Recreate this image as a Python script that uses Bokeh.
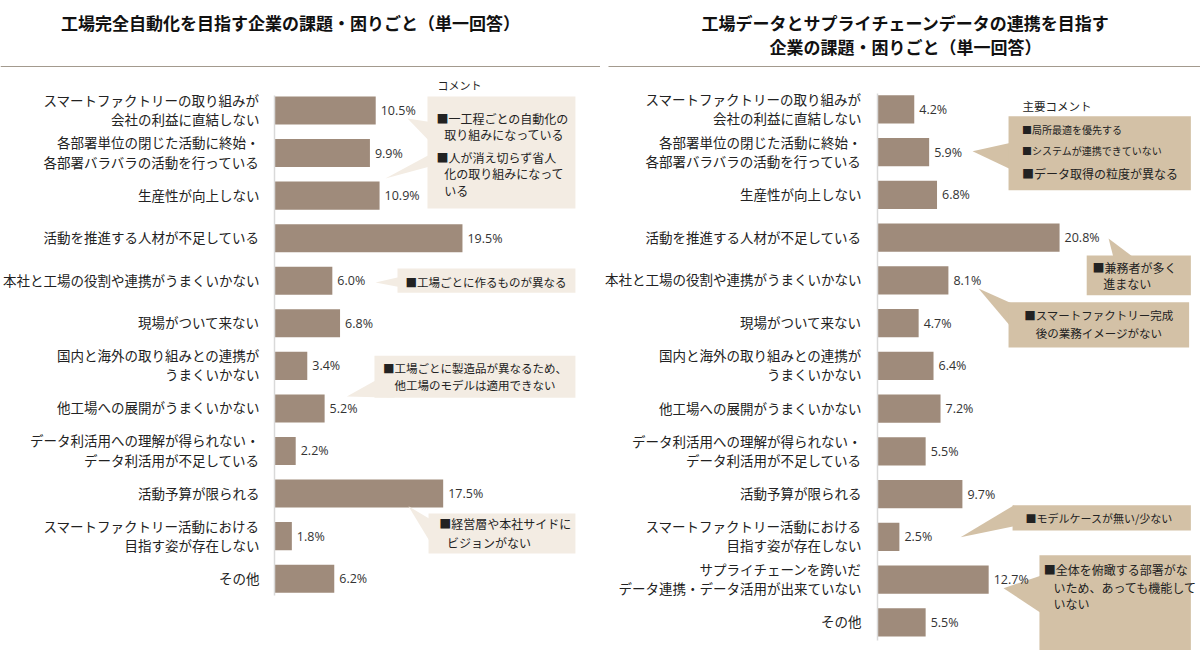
from bokeh.plotting import figure
from bokeh.layouts import row, column
from bokeh.models import Range1d, FixedTicker, ColumnDataSource
from bokeh.core.properties import value
from bokeh.embed import file_html
from bokeh.resources import INLINE

FONT = "Noto Sans CJK JP"
LABEL_FONT = "Lato, 'Noto Sans CJK JP'"
BAR = "#9f8b7b"
LFILL = "#f3ece3"
RFILL = "#d3c1a6"
RULE = "#a39a8e"
TXT = "#222222"

# ---------------- data ----------------
left_title = "工場完全自動化を目指す企業の課題・困りごと（単一回答）"
left_labels = [
    "スマートファクトリーの取り組みが\n会社の利益に直結しない",
    "各部署単位の閉じた活動に終始・\n各部署バラバラの活動を行っている",
    "生産性が向上しない",
    "活動を推進する人材が不足している",
    "本社と工場の役割や連携がうまくいかない",
    "現場がついて来ない",
    "国内と海外の取り組みとの連携が\nうまくいかない",
    "他工場への展開がうまくいかない",
    "データ利活用への理解が得られない・\nデータ利活用が不足している",
    "活動予算が限られる",
    "スマートファクトリー活動における\n目指す姿が存在しない",
    "その他",
]
left_values = [10.5, 9.9, 10.9, 19.5, 6.0, 6.8, 3.4, 5.2, 2.2, 17.5, 1.8, 6.2]

right_title = ["工場データとサプライチェーンデータの連携を目指す", "企業の課題・困りごと（単一回答）"]
right_labels = [
    "スマートファクトリーの取り組みが\n会社の利益に直結しない",
    "各部署単位の閉じた活動に終始・\n各部署バラバラの活動を行っている",
    "生産性が向上しない",
    "活動を推進する人材が不足している",
    "本社と工場の役割や連携がうまくいかない",
    "現場がついて来ない",
    "国内と海外の取り組みとの連携が\nうまくいかない",
    "他工場への展開がうまくいかない",
    "データ利活用への理解が得られない・\nデータ利活用が不足している",
    "活動予算が限られる",
    "スマートファクトリー活動における\n目指す姿が存在しない",
    "サプライチェーンを跨いだ\nデータ連携・データ活用が出来ていない",
    "その他",
]
right_values = [4.2, 5.9, 6.8, 20.8, 8.1, 4.7, 6.4, 7.2, 5.5, 9.7, 2.5, 12.7, 5.5]


# ---------------- helpers ----------------
def title_fig(width, lines, cx, rule_x0, rule_x1):
    t = figure(width=width, height=67, x_range=Range1d(0, width), y_range=Range1d(0, 67),
               output_backend="svg", toolbar_location=None, x_axis_location=None,
               y_axis_location=None, min_border=0, outline_line_color=None)
    t.frame_align = False
    t.xgrid.visible = False
    t.ygrid.visible = False
    ys = [45] if len(lines) == 1 else [45, 21]
    t.text(x=[cx] * len(lines), y=ys, text=lines, text_align="center", text_baseline="middle",
           text_font=value(FONT), text_font_style="bold", text_font_size="17px", text_color="#111111")
    t.segment(x0=[rule_x0], y0=[0.8], x1=[rule_x1], y1=[0.8], line_color=RULE, line_width=1.2)
    return t


def chart_fig(width, border_left, labels, values, xmax, yr, bounds, standoff):
    n = len(labels)
    p = figure(width=width, height=598, x_range=Range1d(0, xmax), y_range=Range1d(*yr),
               output_backend="svg", toolbar_location=None, x_axis_location=None,
               y_axis_location="left", min_border_left=border_left, min_border_right=0,
               min_border_top=0, min_border_bottom=0, outline_line_color=None)
    p.frame_align = False
    p.xgrid.visible = False
    p.ygrid.visible = False
    ax = p.yaxis[0]
    ax.ticker = FixedTicker(ticks=list(range(n)))
    ax.major_label_overrides = {i: lab for i, lab in enumerate(labels)}
    ax.major_tick_line_color = None
    ax.minor_tick_line_color = None
    ax.axis_line_color = "#d9d9d9"
    ax.axis_line_width = 1.5
    ax.bounds = bounds
    ax.major_label_standoff = standoff
    ax.major_label_text_font = LABEL_FONT
    ax.major_label_text_font_size = "13.5px"
    ax.major_label_text_color = TXT
    src = ColumnDataSource(dict(y=list(range(n)), v=values, lab=[f"{v:.1f}%" for v in values]))
    p.hbar(y="y", left=0, right="v", height=0.66, source=src, fill_color=BAR, line_color=None)
    return p, src


def value_labels(p, src):
    p.text(x="v", y="y", text="lab", source=src, x_offset=5, text_baseline="middle",
           text_font=value("Open Sans"), text_font_size="12.5px", text_color="#333333")


def callout(p, box, wedges, lines, fill):
    for w in wedges:
        p.patch(x=[q[0] for q in w], y=[q[1] for q in w], fill_color=fill, line_color=None)
    l, r, t, b = box
    p.quad(left=[l], right=[r], top=[t], bottom=[b], fill_color=fill, line_color=None)
    for (x, y, s, size, align) in lines:
        p.text(x=[x], y=[y], text=[s], text_align=align, text_baseline="middle",
               text_font=value(FONT), text_font_size=size, text_color=TXT)


def header(p, x, y, s, size):
    p.text(x=[x], y=[y], text=[s], text_baseline="middle", text_font=value(FONT),
           text_font_size=size, text_color=TXT)


# ---------------- left ----------------
t1 = title_fig(600, [left_title], 290, 0, 600)
p1, s1 = chart_fig(600, 274, left_labels, left_values, 33.82, (13.04, -1.01), (-0.35, 11.4), 9)

header(p1, 16.9, -0.59, "コメント", "11px")
callout(p1, (15.87, 31.22, -0.33, 2.30),
        [[(13.8, 0.19), (16.5, 0.28), (16.5, 0.82)], [(11.5, 1.60), (16.5, 0.99), (16.5, 1.29)]],
        [(16.8, 0.19, "■一工程ごとの自動化の", "12px", "left"),
         (17.6, 0.56, "取り組みになっている", "12px", "left"),
         (16.8, 1.10, "■人が消え切らず省人", "12px", "left"),
         (17.6, 1.48, "化の取り組みになって", "12px", "left"),
         (17.6, 1.88, "いる", "12px", "left")], LFILL)
callout(p1, (12.76, 31.22, 3.71, 4.28),
        [[(10.48, 4.04), (13.2, 3.90), (13.2, 4.16)]],
        [(13.6, 4.02, "■工場ごとに作るものが異なる", "11.5px", "left")], LFILL)
callout(p1, (10.37, 31.22, 5.76, 6.75),
        [[(7.5, 6.72), (10.8, 6.30), (12.5, 6.75)]],
        [(20.8, 6.04, "■工場ごとに製造品が異なるため、", "11.5px", "center"),
         (20.8, 6.46, "他工場のモデルは適用できない", "11.5px", "center")], LFILL)
callout(p1, (15.98, 31.22, 9.47, 10.41),
        [[(13.9, 9.30), (16.3, 9.62), (16.3, 10.2)]],
        [(17.1, 9.71, "■経営層や本社サイドに", "12px", "left"),
         (17.9, 10.15, "ビジョンがない", "12px", "left")], LFILL)
value_labels(p1, s1)

# ---------------- right ----------------
t2 = title_fig(600, right_title, 305, 8, 600)
p2, s2 = chart_fig(600, 277, right_labels, right_values, 36.9, (13.01, -0.98), (-0.37, 12.42), 10)

header(p2, 16.57, -0.09, "主要コメント", "11.5px")
callout(p2, (14.97, 35.8, 0.16, 1.89),
        [[(10.86, 0.98), (15.5, 0.77), (15.5, 1.43)]],
        [(16.5, 0.47, "■局所最適を優先する", "10px", "left"),
         (16.5, 0.96, "■システムが連携できていない", "10px", "left"),
         (16.5, 1.50, "■データ取得の粒度が異なる", "12px", "left")], RFILL)
callout(p2, (23.9, 35.8, 3.42, 4.35),
        [[(26.4, 3.02), (27.0, 3.5), (29.5, 3.5)]],
        [(24.57, 3.70, "■兼務者が多く", "12px", "left"),
         (25.8, 4.07, "進まない", "12px", "left")], RFILL)
callout(p2, (14.97, 35.6, 4.51, 5.57),
        [[(11.54, 4.19), (16.0, 4.6), (15.3, 5.1)]],
        [(25.3, 4.80, "■スマートファクトリー完成", "11.5px", "center"),
         (25.3, 5.22, "後の業務イメージがない", "11.5px", "center")], RFILL)
callout(p2, (15.43, 35.8, 9.26, 9.85),
        [[(9.49, 10.01), (15.6, 9.26), (15.6, 9.75)]],
        [(16.9, 9.57, "■モデルケースが無い/少ない", "11px", "left")], RFILL)
callout(p2, (18.5, 35.8, 10.43, 12.65),
        [[(14.4, 11.20), (18.8, 10.9), (18.8, 11.8)]],
        [(19.0, 10.76, "■全体を俯瞰する部署がな", "12px", "left"),
         (20.1, 11.18, "いため、あっても機能して", "12px", "left"),
         (20.1, 11.56, "いない", "12px", "left")], RFILL)
value_labels(p2, s2)

layout = row(column(t1, p1), column(t2, p2))
open("out.html", "w").write(file_html(layout, INLINE))
